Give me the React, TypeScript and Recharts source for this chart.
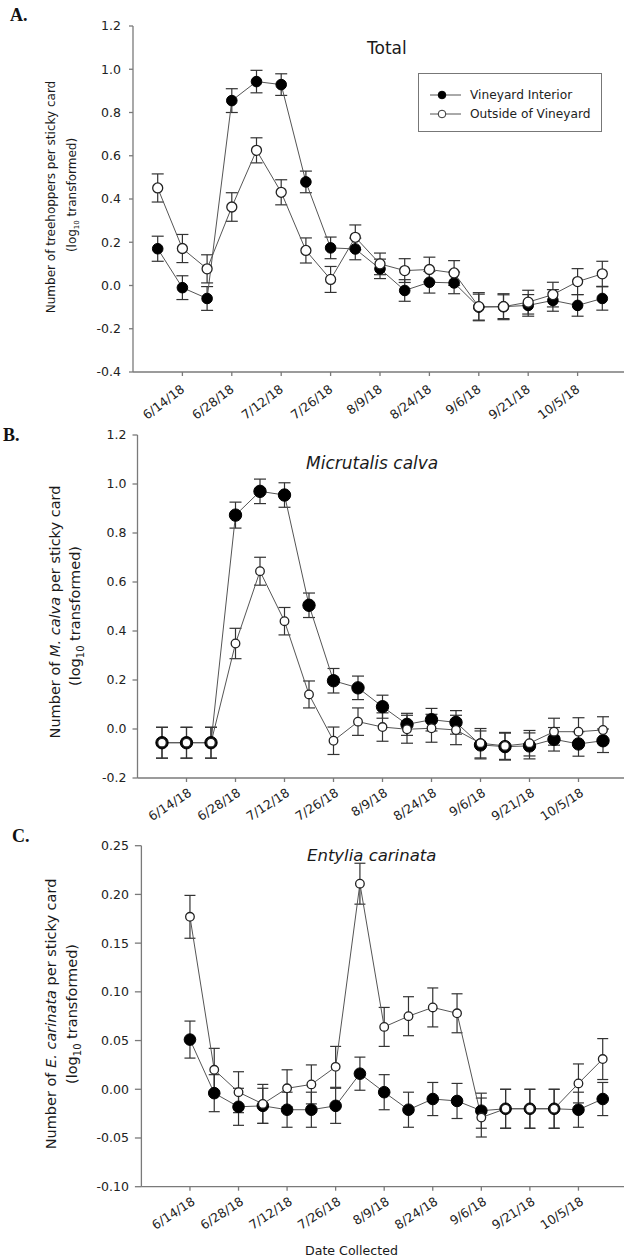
import React from 'react';
import { LineChart, Line, XAxis, YAxis, ErrorBar, Legend } from 'recharts';

const FONT = '"DejaVu Sans", "Liberation Sans", sans-serif';
const SERIF = '"Liberation Serif", "Times New Roman", serif';

// x positions are sampling index (0..18); labelled ticks every other sample
const tickPositions = [1, 3, 5, 7, 9, 11, 13, 15, 17];
const tickLabels = ['6/14/18', '6/28/18', '7/12/18', '7/26/18', '8/9/18', '8/24/18', '9/6/18', '9/21/18', '10/5/18'];

const seriesNames = ['Vineyard Interior', 'Outside of Vineyard'];

// Panel A: Total
const totalInterior = [0.17, -0.01, -0.06, 0.855, 0.943, 0.929, 0.479, 0.174, 0.169, 0.077, -0.023, 0.015, 0.012, -0.1, -0.098, -0.092, -0.069, -0.092, -0.06];
const totalInteriorErr = [0.058, 0.055, 0.055, 0.055, 0.052, 0.05, 0.05, 0.05, 0.05, 0.045, 0.05, 0.05, 0.05, 0.06, 0.055, 0.05, 0.05, 0.05, 0.054];
const totalOutside = [0.451, 0.171, 0.077, 0.363, 0.625, 0.431, 0.162, 0.028, 0.223, 0.1, 0.069, 0.074, 0.058, -0.098, -0.098, -0.077, -0.042, 0.018, 0.054];
const totalOutsideErr = [0.065, 0.065, 0.065, 0.066, 0.058, 0.058, 0.058, 0.06, 0.057, 0.05, 0.055, 0.057, 0.057, 0.065, 0.06, 0.055, 0.057, 0.06, 0.058];

// Panel B: Micrutalis calva
const calvaInterior = [-0.056, -0.056, -0.056, 0.873, 0.97, 0.955, 0.505, 0.197, 0.168, 0.091, 0.019, 0.038, 0.027, -0.065, -0.072, -0.069, -0.042, -0.061, -0.048];
const calvaInteriorErr = [0.063, 0.063, 0.063, 0.053, 0.05, 0.05, 0.05, 0.05, 0.048, 0.047, 0.045, 0.046, 0.048, 0.057, 0.055, 0.053, 0.048, 0.05, 0.048];
const calvaOutside = [-0.056, -0.056, -0.056, 0.349, 0.644, 0.44, 0.141, -0.048, 0.03, 0.008, -0.001, 0.003, -0.004, -0.058, -0.069, -0.058, -0.011, -0.011, -0.004];
const calvaOutsideErr = [0.063, 0.063, 0.063, 0.062, 0.057, 0.056, 0.055, 0.056, 0.056, 0.058, 0.057, 0.057, 0.06, 0.06, 0.055, 0.052, 0.055, 0.057, 0.054];

// Panel C: Entylia carinata (starts at sample 1)
const carinataStart = 1;
const carinataInterior = [0.051, -0.004, -0.018, -0.017, -0.021, -0.021, -0.017, 0.016, -0.003, -0.021, -0.01, -0.012, -0.022, -0.02, -0.02, -0.02, -0.021, -0.01];
const carinataInteriorErr = [0.019, 0.019, 0.019, 0.018, 0.018, 0.018, 0.018, 0.017, 0.018, 0.018, 0.017, 0.018, 0.018, 0.02, 0.02, 0.02, 0.018, 0.017];
const carinataOutside = [0.177, 0.02, -0.003, -0.015, 0.001, 0.005, 0.023, 0.211, 0.064, 0.075, 0.084, 0.078, -0.029, -0.02, -0.02, -0.02, 0.006, 0.031];
const carinataOutsideErr = [0.022, 0.022, 0.021, 0.02, 0.019, 0.02, 0.021, 0.021, 0.02, 0.02, 0.02, 0.02, 0.02, 0.02, 0.02, 0.02, 0.02, 0.021];

const yTicksA = [-0.4, -0.2, 0, 0.2, 0.4, 0.6, 0.8, 1.0, 1.2];
const yTicksB = [-0.2, 0, 0.2, 0.4, 0.6, 0.8, 1.0, 1.2];
const yTicksC = [-0.1, -0.05, 0, 0.05, 0.1, 0.15, 0.2, 0.25];

function buildRows(start: number, a: number[], ae: number[], b: number[], be: number[]) {
  return a.map((v, i) => ({ x: start + i, interior: v, interiorErr: ae[i], outside: b[i], outsideErr: be[i] }));
}

const dataA = buildRows(0, totalInterior, totalInteriorErr, totalOutside, totalOutsideErr);
const dataB = buildRows(0, calvaInterior, calvaInteriorErr, calvaOutside, calvaOutsideErr);
const dataC = buildRows(carinataStart, carinataInterior, carinataInteriorErr, carinataOutside, carinataOutsideErr);

const AXIS = '#7a7a7a';
const LINE = '#555555';
const ERR = '#333333';

const makeXTick = (angle: number, ox: number, oy: number, fs: number) => (props: any) => {
  const { x, y, payload } = props;
  const i = tickPositions.indexOf(payload.value);
  return (
    <g transform={`translate(${x + ox},${y + oy})`}>
      <text x={0} y={0} textAnchor="end" transform={`rotate(${-angle})`} fontSize={fs} fontFamily={FONT} fill="#222">
        {i >= 0 ? tickLabels[i] : ''}
      </text>
    </g>
  );
};

const renderLegend = (props: any) => {
  const payload = [...(props.payload || [])].sort(
    (a: any, b: any) => seriesNames.indexOf(a.value) - seriesNames.indexOf(b.value)
  );
  return (
    <div style={{ width: 184, height: 59, border: '1.3px solid #777', boxSizing: 'border-box', background: '#fff', position: 'relative' }}>
      {payload.map((entry: any, i: number) => {
        const filled = entry.value === seriesNames[0];
        return (
          <div key={i} style={{ position: 'absolute', left: 11, top: 12 + i * 18.6, height: 18, display: 'flex', alignItems: 'center' }}>
            <svg width={32} height={12} style={{ display: 'block' }}>
              <line x1={0} y1={6} x2={31} y2={6} stroke={LINE} strokeWidth={1} />
              <circle cx={12} cy={6} r={3.8} fill={filled ? '#000' : '#fff'} stroke={filled ? '#000' : '#333'} strokeWidth={1} />
            </svg>
            <span style={{ marginLeft: 8, fontFamily: FONT, fontSize: 12.2, color: '#222', whiteSpace: 'nowrap' }}>{entry.value}</span>
          </div>
        );
      })}
    </div>
  );
};

type PanelProps = {
  top: number;
  height: number;
  marginTop: number;
  yAxisWidth: number;
  marginRight: number;
  xAxisHeight: number;
  domain: [number, number];
  yTicks: number[];
  decimals: number;
  data: any[];
  rFilled: number;
  rOpen: number;
  angle: number;
  tickOx: number;
  tickOy: number;
  yTickSize: number;
  yTickMargin: number;
  capWidth: number;
  legend?: boolean;
};

function Panel(p: PanelProps) {
  return (
    <div style={{ position: 'absolute', left: 0, top: p.top }}>
      <LineChart width={640} height={p.height} data={p.data} margin={{ top: p.marginTop, right: p.marginRight, left: 0, bottom: 0 }}>
        <XAxis
          xAxisId="top"
          orientation="top"
          type="number"
          dataKey="x"
          domain={[-1, 19]}
          tick={false}
          tickLine={false}
          axisLine={{ stroke: AXIS, strokeWidth: 1.3 }}
          height={0}
        />
        <XAxis
          type="number"
          dataKey="x"
          domain={[-1, 19]}
          ticks={tickPositions}
          interval={0}
          tickSize={4}
          tickMargin={2}
          tickLine={{ stroke: AXIS, strokeWidth: 1.3 }}
          axisLine={{ stroke: AXIS, strokeWidth: 1.3 }}
          tick={makeXTick(p.angle, p.tickOx, p.tickOy, 12.5)}
          height={p.xAxisHeight}
        />
        <YAxis
          type="number"
          domain={p.domain}
          ticks={p.yTicks}
          interval={0}
          width={p.yAxisWidth}
          tickSize={p.yTickSize}
          tickMargin={p.yTickMargin}
          tickLine={{ stroke: AXIS, strokeWidth: 1.3 }}
          axisLine={{ stroke: AXIS, strokeWidth: 1.3 }}
          tick={{ fontSize: 12.5, fill: '#222', fontFamily: FONT }}
          tickFormatter={(v: number) => v.toFixed(p.decimals)}
          allowDataOverflow
        />
        {p.legend ? (
          <Legend
            layout="vertical"
            align="center"
            verticalAlign="middle"
            content={renderLegend}
            wrapperStyle={{ position: 'absolute', left: 418, top: 73, width: 185, height: 60 }}
          />
        ) : null}
        <Line
          dataKey="interior"
          name={seriesNames[0]}
          stroke={LINE}
          strokeWidth={1}
          isAnimationActive={false}
          dot={{ r: p.rFilled, fill: '#000', stroke: '#000', strokeWidth: 1 }}
          activeDot={false}
        >
          <ErrorBar dataKey="interiorErr" direction="y" width={p.capWidth} stroke={ERR} strokeWidth={1.2} isAnimationActive={false} />
        </Line>
        <Line
          dataKey="outside"
          name={seriesNames[1]}
          stroke={LINE}
          strokeWidth={1}
          isAnimationActive={false}
          dot={{ r: p.rOpen, fill: '#fff', stroke: '#222', strokeWidth: 1.3 }}
          activeDot={false}
        >
          <ErrorBar dataKey="outsideErr" direction="y" width={p.capWidth} stroke={ERR} strokeWidth={1.2} isAnimationActive={false} />
        </Line>
      </LineChart>
    </div>
  );
}

function Overlay() {
  const t = { fontFamily: FONT, fill: '#1a1a1a' } as any;
  return (
    <svg width={624} height={1257} style={{ position: 'absolute', left: 0, top: 0, pointerEvents: 'none' }}>
      <text x={10} y={21} fontFamily={SERIF} fontWeight="bold" fontSize={18} fill="#111">A.</text>
      <text x={3} y={441} fontFamily={SERIF} fontWeight="bold" fontSize={18} fill="#111">B.</text>
      <text x={12} y={842} fontFamily={SERIF} fontWeight="bold" fontSize={18} fill="#111">C.</text>

      <text x={367} y={54} fontSize={17} {...t}>Total</text>
      <text x={306} y={469} fontSize={17} fontStyle="italic" {...t}>Micrutalis calva</text>
      <text x={307} y={861} fontSize={16.5} fontStyle="italic" {...t}>Entylia carinata</text>

      <text transform="translate(55,197) rotate(-90)" textAnchor="middle" fontSize={12} {...t}>Number of treehoppers per sticky card</text>
      <text transform="translate(76,195) rotate(-90)" textAnchor="middle" fontSize={12} {...t}>
        (log<tspan fontSize={7} dy={3}>10</tspan><tspan dy={-3}> transformed)</tspan>
      </text>

      <text transform="translate(60,612) rotate(-90)" textAnchor="middle" fontSize={14.5} {...t}>
        Number of <tspan fontStyle="italic">M. calva</tspan> per sticky card
      </text>
      <text transform="translate(80,616) rotate(-90)" textAnchor="middle" fontSize={14.5} {...t}>
        (log<tspan fontSize={10} dy={4}>10</tspan><tspan dy={-4}> transformed)</tspan>
      </text>

      <text transform="translate(56,1014) rotate(-90)" textAnchor="middle" fontSize={14.5} {...t}>
        Number of <tspan fontStyle="italic">E. carinata</tspan> per sticky card
      </text>
      <text transform="translate(77,1014) rotate(-90)" textAnchor="middle" fontSize={14.5} {...t}>
        (log<tspan fontSize={10} dy={4}>10</tspan><tspan dy={-4}> transformed)</tspan>
      </text>

      <text x={305} y={1255} fontSize={12.6} {...t}>Date Collected</text>
    </svg>
  );
}

export default function App() {
  return (
    <div style={{ position: 'absolute', left: 0, top: 0, width: 624, height: 1257, overflow: 'hidden', background: '#fff' }}>
      <Panel
        top={0}
        height={440}
        marginTop={26}
        yAxisWidth={133}
        marginRight={13}
        xAxisHeight={68}
        domain={[-0.4, 1.2]}
        yTicks={yTicksA}
        decimals={1}
        data={dataA}
        rFilled={5.3}
        rOpen={5}
        angle={37}
        tickOx={3}
        tickOy={13}
        yTickSize={4}
        yTickMargin={8}
        capWidth={6}
        legend
      />
      <Panel
        top={420}
        height={440}
        marginTop={15}
        yAxisWidth={137.5}
        marginRight={12.5}
        xAxisHeight={82}
        domain={[-0.2, 1.2]}
        yTicks={yTicksB}
        decimals={1}
        data={dataB}
        rFilled={6.2}
        rOpen={4.3}
        angle={33}
        tickOx={6}
        tickOy={11}
        yTickSize={5}
        yTickMargin={6}
        capWidth={6}
      />
      <Panel
        top={830}
        height={427}
        marginTop={15.7}
        yAxisWidth={141.4}
        marginRight={13}
        xAxisHeight={70.3}
        domain={[-0.1, 0.25]}
        yTicks={yTicksC}
        decimals={2}
        data={dataC}
        rFilled={5.8}
        rOpen={4.3}
        angle={33}
        tickOx={6}
        tickOy={11}
        yTickSize={6.5}
        yTickMargin={6}
        capWidth={5.5}
      />
      <Overlay />
    </div>
  );
}
